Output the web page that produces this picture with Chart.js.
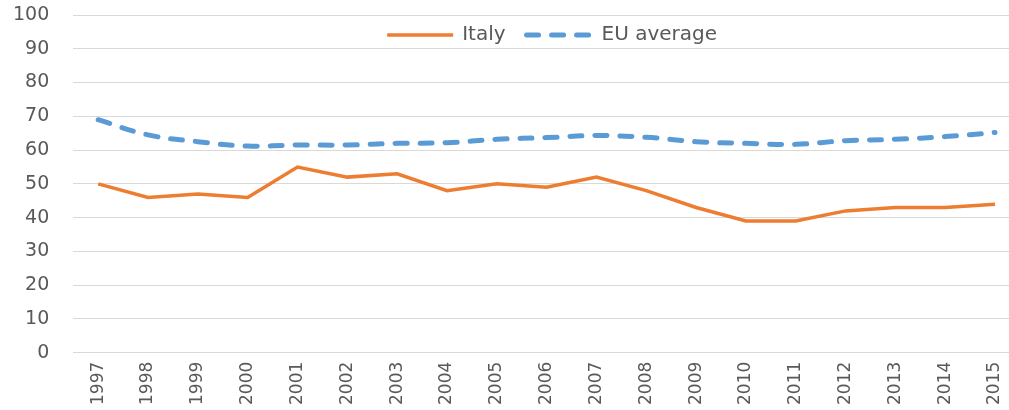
<!DOCTYPE html>
<html lang="en">
<head>
    <meta charset="UTF-8">
    <title>Italy vs EU average</title>
    <script src="https://cdn.jsdelivr.net/npm/chart.js"></script>
    <style>
        body {
    margin: 0;
    background: #fff;
}
#chartContainer {
    width: 1009px;
    height: 410px;
}
    </style>
</head>
<body>

<div id="chartContainer">
    <canvas id="myChart" width="1009" height="410"></canvas>
</div>

<script>
    // Data
    const years = [1997, 1998, 1999, 2000, 2001, 2002, 2003, 2004, 2005, 2006, 2007, 2008, 2009, 2010, 2011, 2012, 2013, 2014, 2015];
    const italy = [50, 46, 47, 46, 55, 52, 53, 48, 50, 49, 52, 48, 43, 39, 39, 42, 43, 43, 44];
    const euAverage = [69, 64.5, 62.5, 61.2, 61.5, 61.5, 62, 62.2, 63.2, 63.7, 64.3, 63.8, 62.5, 62, 61.7, 62.8, 63.2, 64, 65.2];
    const yTicks = { min: 0, max: 100, step: 10 };

    const textColor = '#595959';
    const gridColor = '#d9d9d9';
    const fontFamily = '"DejaVu Sans", sans-serif';

    // Legend drawn inside the plot area, like the original
    const insideLegend = {
        id: 'insideLegend',
        afterDatasetsDraw(chart) {
            const ctx = chart.ctx;
            const area = chart.chartArea;
            const sampleWidth = 70, textGap = 7, itemGap = 19;
            ctx.save();
            ctx.font = '20px ' + fontFamily;
            const items = chart.data.datasets.map(ds => ({
                ds: ds,
                w: sampleWidth + textGap + ctx.measureText(ds.label).width
            }));
            const total = items.reduce((s, it) => s + it.w, 0) + itemGap * (items.length - 1);
            let x = (area.left + area.right) / 2 + 10 - total / 2;
            const y = area.top + 20;
            items.forEach(it => {
                ctx.beginPath();
                ctx.strokeStyle = it.ds.borderColor;
                ctx.lineWidth = it.ds.borderWidth;
                ctx.lineCap = it.ds.borderCapStyle || 'butt';
                ctx.setLineDash(it.ds.borderDash || []);
                ctx.moveTo(x + 2, y);
                ctx.lineTo(x + sampleWidth - 2, y);
                ctx.stroke();
                ctx.setLineDash([]);
                ctx.fillStyle = textColor;
                ctx.textBaseline = 'middle';
                ctx.textAlign = 'left';
                ctx.fillText(it.ds.label, x + sampleWidth + textGap, y);
                x += it.w + itemGap;
            });
            ctx.restore();
        }
    };

    const ctx = document.getElementById('myChart').getContext('2d');
    const myChart = new Chart(ctx, {
        type: 'line',
        data: {
            labels: years,
            datasets: [{
                label: 'Italy',
                data: italy,
                borderColor: '#ED7D31',
                backgroundColor: '#ED7D31',
                borderWidth: 3.5,
                pointRadius: 0,
                tension: 0,
                fill: false
            }, {
                label: 'EU average',
                data: euAverage,
                borderColor: '#5B9BD5',
                backgroundColor: '#5B9BD5',
                borderWidth: 5,
                borderDash: [12, 13],
                borderCapStyle: 'round',
                pointRadius: 0,
                tension: 0.4,
                fill: false
            }]
        },
        options: {
            responsive: false,
            animation: false,
            layout: {
                padding: { left: 13, top: 15, right: 0, bottom: 5 }
            },
            plugins: {
                legend: { display: false },
                tooltip: { enabled: false }
            },
            scales: {
                x: {
                    type: 'linear',
                    min: years[0] - 0.5,
                    max: years[years.length - 1] + 0.28,
                    grid: { display: false, drawTicks: false },
                    border: { display: true, color: gridColor, width: 1 },
                    afterBuildTicks: scale => {
                        scale.ticks = years.map(v => ({ value: v }));
                    },
                    afterFit: scale => {
                        // Chart.js counts tick padding twice
                        scale.height -= scale.options.ticks.padding;
                        scale.paddingLeft = 0;
                        scale.paddingRight = 0;
                    },
                    ticks: {
                        autoSkip: false,
                        minRotation: 90,
                        maxRotation: 90,
                        padding: 9,
                        color: textColor,
                        font: { family: fontFamily, size: 17 },
                        callback: v => String(v)
                    }
                },
                y: {
                    min: yTicks.min,
                    max: yTicks.max,
                    grid: { color: gridColor, drawTicks: false },
                    border: { display: false },
                    afterFit: scale => {
                        scale.width -= scale.options.ticks.padding;
                        scale.paddingTop = 0;
                        scale.paddingBottom = 0;
                    },
                    ticks: {
                        stepSize: yTicks.step,
                        padding: 24,
                        color: textColor,
                        font: { family: fontFamily, size: 19 }
                    }
                }
            }
        },
        plugins: [insideLegend]
    });
</script>

</body>
</html>
